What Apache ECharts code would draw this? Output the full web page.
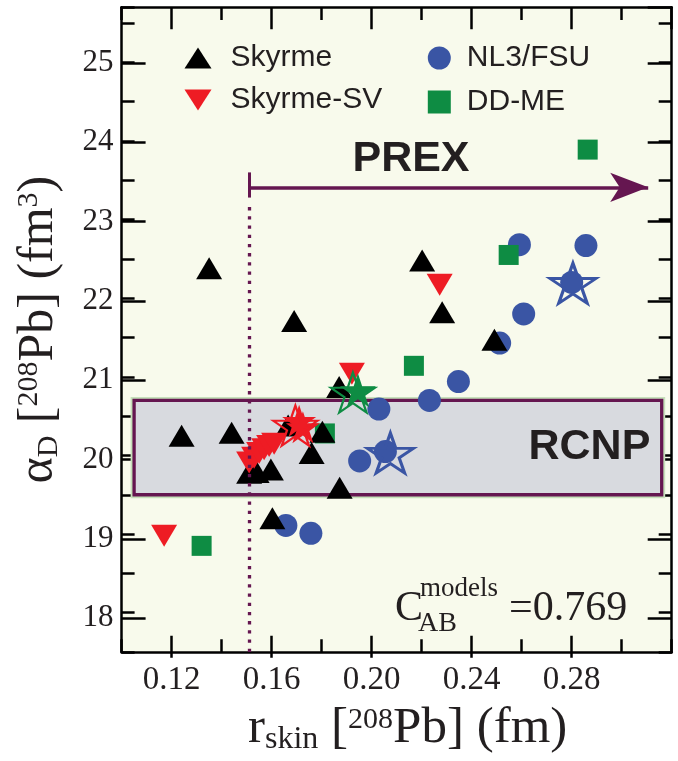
<!DOCTYPE html>
<html><head><meta charset="utf-8">
<script src="https://cdn.jsdelivr.net/npm/echarts@6/dist/echarts.min.js"></script>
<style>html,body{margin:0;padding:0;background:#fff}#c{width:678px;height:761px}</style>
</head><body><div id="c"></div>
<script>
// ---- data ----
const skyrmeX = [0.135, 0.169, 0.187, 0.144, 0.124, 0.151, 0.154, 0.1597, 0.1666, 0.1803, 0.176, 0.1872, 0.1603, 0.2202, 0.2282, 0.2491];
const skyrmeY = [22.38, 21.71, 20.87, 20.29, 20.25, 19.78, 19.79, 19.82, 20.38, 20.30, 20.03, 19.59, 19.20, 22.48, 21.82, 21.47];
const svX = [0.117, 0.2272, 0.1921, 0.151, 0.153, 0.155, 0.157, 0.159, 0.161];
const svY = [18.98, 22.17, 21.04, 19.91, 19.97, 20.03, 20.08, 20.12, 20.15];
const nlX = [0.1657, 0.1757, 0.1952, 0.2029, 0.2055, 0.2231, 0.2347, 0.2512, 0.2591, 0.2608, 0.2800, 0.2857];
const nlY = [19.11, 19.01, 19.93, 20.59, 20.05, 20.70, 20.94, 21.43, 22.68, 21.80, 22.20, 22.67];
const ddX = [0.132, 0.1813, 0.2169, 0.2548, 0.2864];
const ddY = [18.85, 20.28, 21.14, 22.55, 23.89];
const redStarFilledX = [0.171, 0.1725];
const redStarFilledY = [20.44, 20.36];
const redStarHollowX = [0.1695];
const redStarHollowY = [20.38];
const greenStarFilledX = [0.1945];
const greenStarFilledY = [20.83];
const greenStarHollowX = [0.1925];
const greenStarHollowY = [20.80];
const blueStarHollowX = [0.2075, 0.2805];
const blueStarHollowY = [20.03, 22.19];
const rcnpX = [0.105, 0.316];
const rcnpY = [19.5, 20.7];
const prexX = 0.151;
const prexArrowEnd = 0.3106;
const prexArrowY = 23.41;
const xTicks = [0.12, 0.16, 0.20, 0.24, 0.28];
const yTicks = [18, 19, 20, 21, 22, 23, 24, 25];
const names = ['Skyrme', 'Skyrme-SV', 'NL3/FSU', 'DD-ME'];

const zip = (a, b) => a.map((v, i) => [v, b[i]]);
const STAR = 'path://M0,-50 L11.2,-15.5 L47.6,-15.5 L18.2,5.9 L29.4,40.5 L0,19.1 L-29.4,40.5 L-18.2,5.9 L-47.6,-15.5 L-11.2,-15.5 Z';
const DOWN_TRI = 'path://M0,0 L26,0 L13,22 Z';
const PURPLE = '#651650';
const TXT = '#231F20';
const SERIF = '"Liberation Serif", "Times New Roman", serif';
const SANS = '"Liberation Sans", Arial, sans-serif';

const G0 = {left: 121.6, top: 7.3, width: 550.1, height: 650.4};
const chart = echarts.init(document.getElementById('c'), null, {renderer: 'canvas'});

const lineSt = {color: '#000', width: 2.5};
const xl = v => xTicks.some(t => Math.abs(t - v) < 1e-9) ? v.toFixed(2) : '';
const yl = v => yTicks.some(t => Math.abs(t - v) < 1e-9) ? v.toFixed(0) : '';

const option = {
  animation: false,
  backgroundColor: '#ffffff',
  grid: [
    Object.assign({show: true, backgroundColor: '#F8FAEC', borderWidth: 0}, G0),
    {left: 171.64, top: 7.3, width: 500.06, height: 650.4},
    {left: 121.6, top: 7.3, width: 550.1, height: 610.8}
  ],
  xAxis: [
    {type: 'value', gridIndex: 0, position: 'bottom', min: 0.10, max: 0.32, interval: 0.02,
     axisLine: {show: true, onZero: false, lineStyle: lineSt},
     axisTick: {show: true, inside: true, length: 12.7, lineStyle: lineSt},
     axisLabel: {show: false}, splitLine: {show: false},
     name: '{m|r}{sub|skin}{m| [}{sup|208}{m|Pb] (fm)}', nameLocation: 'middle', nameGap: 50,
     nameTextStyle: {fontFamily: SERIF, color: TXT, padding: [0, 0, 0, 22], rich: {
       m: {fontSize: 51, fontFamily: SERIF, color: TXT},
       sub: {fontSize: 32, fontFamily: SERIF, color: TXT, padding: [22, 0, 0, 0]},
       sup: {fontSize: 30, fontFamily: SERIF, color: TXT, padding: [0, 0, 18, 0]}
     }}},
    {type: 'value', gridIndex: 0, position: 'top', min: 0.10, max: 0.32, interval: 0.02,
     axisLine: {show: true, onZero: false, lineStyle: lineSt},
     axisTick: {show: true, inside: true, length: 12.7, lineStyle: lineSt},
     axisLabel: {show: false}, splitLine: {show: false}},
    {type: 'value', gridIndex: 1, position: 'bottom', min: 0.12, max: 0.32, interval: 0.04,
     axisLine: {show: false, onZero: false},
     axisTick: {show: true, inside: true, length: 22, lineStyle: lineSt},
     axisLabel: {show: true, formatter: xl, margin: 6, fontSize: 33, fontFamily: SERIF, color: TXT, showMaxLabel: false},
     splitLine: {show: false}},
    {type: 'value', gridIndex: 1, position: 'top', min: 0.12, max: 0.32, interval: 0.04,
     axisLine: {show: false, onZero: false},
     axisTick: {show: true, inside: true, length: 22, lineStyle: lineSt},
     axisLabel: {show: false}, splitLine: {show: false}},
    {type: 'value', gridIndex: 2, show: false, min: 0.10, max: 0.32}
  ],
  yAxis: [
    {type: 'value', gridIndex: 0, position: 'left', min: 17.5, max: 25.7, interval: 0.5,
     axisLine: {show: true, onZero: false, lineStyle: lineSt},
     axisTick: {show: true, inside: true, length: 13, lineStyle: lineSt},
     axisLabel: {show: false}, splitLine: {show: false},
     name: '{m|α}{sub|D}{m| [}{sup|208}{m|Pb] (fm}{sup|3}{m|)}', nameLocation: 'middle', nameGap: 57,
     nameTextStyle: {fontFamily: SERIF, color: TXT, rich: {
       m: {fontSize: 50, fontFamily: SERIF, color: TXT},
       sub: {fontSize: 30, fontFamily: SERIF, color: TXT, padding: [22, 0, 0, 0]},
       sup: {fontSize: 30, fontFamily: SERIF, color: TXT, padding: [0, 0, 18, 0]}
     }}},
    {type: 'value', gridIndex: 0, position: 'right', min: 17.5, max: 25.7, interval: 0.5,
     axisLine: {show: true, onZero: false, lineStyle: lineSt},
     axisTick: {show: true, inside: true, length: 13, lineStyle: lineSt},
     axisLabel: {show: false}, splitLine: {show: false}},
    {type: 'value', gridIndex: 1, show: false, min: 17.5, max: 25.7},
    {type: 'value', gridIndex: 2, position: 'left', min: 18, max: 25.7, interval: 1,
     axisLine: {show: false, onZero: false},
     axisTick: {show: true, inside: true, length: 24, lineStyle: lineSt},
     axisLabel: {show: true, formatter: yl, margin: 8, fontSize: 31, fontFamily: SERIF, color: TXT, showMaxLabel: false},
     splitLine: {show: false}},
    {type: 'value', gridIndex: 2, position: 'right', min: 18, max: 25.7, interval: 1,
     axisLine: {show: false, onZero: false},
     axisTick: {show: true, inside: true, length: 24, lineStyle: lineSt},
     axisLabel: {show: false}, splitLine: {show: false}}
  ],
  legend: [
    {data: [{name: names[0]}, {name: names[1], icon: DOWN_TRI}], orient: 'vertical', left: 179.5, top: 38, itemWidth: 27, itemHeight: 21,
     symbolKeepAspect: false, itemGap: 12, selectedMode: false,
     textStyle: {fontSize: 30, fontFamily: SANS, color: TXT, padding: [0, 0, 0, 14]}},
    {data: [names[2], names[3]], orient: 'vertical', left: 422.8, top: 38, itemWidth: 23, itemHeight: 23,
     itemGap: 14, selectedMode: false,
     textStyle: {fontSize: 30, fontFamily: SANS, color: TXT, padding: [0, 0, 0, 11]}}
  ],
  graphic: [
    {type: 'text', silent: true, z: 100, style: {text: 'PREX', x: 411, y: 159, align: 'center', verticalAlign: 'middle', font: 'bold 43px ' + SANS, fill: TXT}},
    {type: 'text', silent: true, z: 100, style: {text: 'C', x: 395, y: 609, align: 'left', verticalAlign: 'middle', font: '42px ' + SERIF, fill: TXT}},
    {type: 'text', silent: true, z: 100, style: {text: 'models', x: 420, y: 589, align: 'left', verticalAlign: 'middle', font: '27px ' + SERIF, fill: TXT}},
    {type: 'text', silent: true, z: 100, style: {text: 'AB', x: 418, y: 624, align: 'left', verticalAlign: 'middle', font: '28px ' + SERIF, fill: TXT}},
    {type: 'text', silent: true, z: 100, style: {text: '=0.769', x: 509, y: 609, align: 'left', verticalAlign: 'middle', font: '42px ' + SERIF, fill: TXT}}
  ],
  series: [
    {type: 'scatter', name: 'rcnp', xAxisIndex: 0, yAxisIndex: 0, data: [], z: 1, silent: true,
     markArea: {silent: true, data: [
       [{coord: [rcnpX[0], rcnpY[1]], itemStyle: {color: '#D8DADF', borderColor: '#C6E0BA', borderWidth: 7}}, {coord: [rcnpX[1], rcnpY[0]]}],
       [{coord: [rcnpX[0], rcnpY[1]], itemStyle: {color: '#D8DADF', borderColor: PURPLE, borderWidth: 3.3},
         label: {show: true, position: 'insideRight', distance: 13, formatter: 'RCNP', fontSize: 43, fontWeight: 'bold', fontFamily: SANS, color: TXT}},
        {coord: [rcnpX[1], rcnpY[0]]}]
     ]}},
    {type: 'scatter', name: names[2], xAxisIndex: 0, yAxisIndex: 0, z: 2, data: zip(nlX, nlY), symbol: 'circle', symbolSize: 23, itemStyle: {color: '#3A55A4', opacity: 1}},
    {type: 'scatter', name: names[3], xAxisIndex: 0, yAxisIndex: 0, z: 2, data: zip(ddX, ddY), symbol: 'rect', symbolSize: 20, itemStyle: {color: '#0E8C43', opacity: 1}},
    {type: 'scatter', name: names[0], xAxisIndex: 0, yAxisIndex: 0, z: 2, data: zip(skyrmeX, skyrmeY), symbol: 'triangle', symbolSize: [26, 22], itemStyle: {color: '#000000', opacity: 1}},
    {type: 'scatter', name: names[1], xAxisIndex: 0, yAxisIndex: 0, z: 2, data: zip(svX, svY), symbol: 'triangle', symbolRotate: 180, symbolSize: [26, 22], itemStyle: {color: '#EE1C24', opacity: 1}},
    {type: 'scatter', name: 'starRedFilled', xAxisIndex: 0, yAxisIndex: 0, z: 3, data: zip(redStarFilledX, redStarFilledY), symbol: STAR, symbolSize: [34, 32], itemStyle: {color: '#EE1C24', opacity: 1}},
    {type: 'scatter', name: 'starRedHollow', xAxisIndex: 0, yAxisIndex: 0, z: 3, data: zip(redStarHollowX, redStarHollowY), symbol: STAR, symbolSize: [44, 40], itemStyle: {color: 'rgba(0,0,0,0)', borderColor: '#EE1C24', borderWidth: 2.2, opacity: 1}},
    {type: 'scatter', name: 'starGreenFilled', xAxisIndex: 0, yAxisIndex: 0, z: 3, data: zip(greenStarFilledX, greenStarFilledY), symbol: STAR, symbolSize: [36, 34], itemStyle: {color: '#0E8C43', opacity: 1}},
    {type: 'scatter', name: 'starGreenHollow', xAxisIndex: 0, yAxisIndex: 0, z: 3, data: zip(greenStarHollowX, greenStarHollowY), symbol: STAR, symbolSize: [44, 40], itemStyle: {color: 'rgba(0,0,0,0)', borderColor: '#0E8C43', borderWidth: 2.2, opacity: 1}},
    {type: 'scatter', name: 'starBlueHollow', xAxisIndex: 0, yAxisIndex: 0, z: 3, data: zip(blueStarHollowX, blueStarHollowY), symbol: STAR, symbolSize: [46, 40], itemStyle: {color: 'rgba(0,0,0,0)', borderColor: '#3A55A4', borderWidth: 3, opacity: 1}},
    {type: 'scatter', name: 'prex', xAxisIndex: 0, yAxisIndex: 0, data: [], z: 5, silent: true,
     markLine: {silent: true, symbol: ['none', 'none'], label: {show: false}, emphasis: {disabled: true},
       data: [
         [{coord: [prexX, 17.5], lineStyle: {color: PURPLE, width: 3.3, type: [3.3, 5.9]}}, {coord: [prexX, 23.22]}],
         [{coord: [prexX, 23.60], lineStyle: {color: PURPLE, width: 3, type: 'solid'}}, {coord: [prexX, 23.28]}],
         [{coord: [prexX, prexArrowY], lineStyle: {color: PURPLE, width: 3.5, type: 'solid'}, symbol: 'none'},
          {coord: [prexArrowEnd, prexArrowY], symbol: 'arrow', symbolSize: [22, 38]}]
       ]}}
  ]
};
chart.setOption(option);
</script></body></html>
